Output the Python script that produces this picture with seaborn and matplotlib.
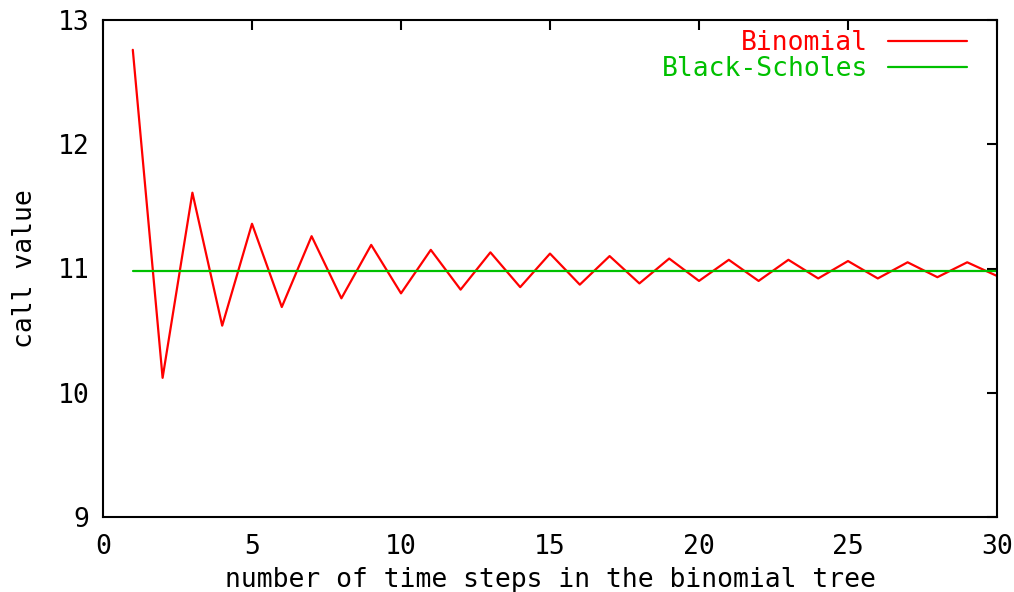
import numpy as np
import pandas as pd
import matplotlib
matplotlib.use("Agg")
import matplotlib.pyplot as plt
import seaborn as sns

# binomial call value vs number of time steps
steps = list(range(1, 31))
binomial = [12.76, 10.12, 11.61, 10.54, 11.36, 10.69, 11.26, 10.76, 11.19, 10.80,
            11.15, 10.83, 11.13, 10.85, 11.12, 10.87, 11.10, 10.88, 11.08, 10.90,
            11.07, 10.90, 11.07, 10.92, 11.06, 10.92, 11.05, 10.93, 11.05, 10.94]

# black-scholes reference value
bs_steps = [1, 30]
bs_values = [10.98, 10.98]

df = pd.DataFrame({'steps': steps, 'binomial': binomial})
df_bs = pd.DataFrame({'steps': bs_steps, 'value': bs_values})

sns.set_style("white")
plt.rcParams['font.family'] = ['DejaVu Sans Mono', 'DejaVu Sans']
plt.rcParams['text.color'] = 'black'
plt.rcParams['axes.labelcolor'] = 'black'

fig = plt.figure(figsize=(10.14, 5.92), dpi=100)
ax = fig.add_axes([103 / 1014, 75 / 592, 894 / 1014, 497 / 592])

sns.lineplot(data=df, x='steps', y='binomial', color='#ff0000', lw=1.6, label='Binomial', ax=ax)
sns.lineplot(data=df_bs, x='steps', y='value', color='#00c000', lw=1.6, label='Black-Scholes', ax=ax)

ax.set_xlim(0, 30)
ax.set_ylim(9, 13)
ax.set_xticks([0, 5, 10, 15, 20, 25, 30])
ax.set_yticks([9, 10, 11, 12, 13])
ax.tick_params(direction='in', length=7, width=1.5, top=True, right=True,
               labelsize=19, colors='black', pad=10)
ax.tick_params(axis='x', pad=12)
for s in ax.spines.values():
    s.set_linewidth(1.5)
    s.set_color('black')

ax.set_xlabel('number of time steps in the binomial tree', fontsize=19, labelpad=5)
ax.set_ylabel('call value', fontsize=19, labelpad=14)

ax.legend(loc='upper right', frameon=False, markerfirst=False, labelcolor='linecolor',
          fontsize=19, handlelength=3.0, handletextpad=0.75, labelspacing=0.0,
          borderaxespad=0.2, bbox_to_anchor=(1 - 14 / 894, 1 + 6 / 497))

plt.savefig('out.png', dpi=100)
